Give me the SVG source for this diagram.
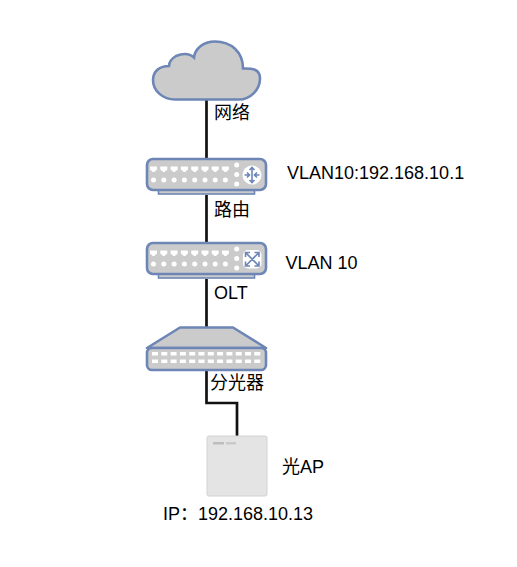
<svg xmlns="http://www.w3.org/2000/svg" xmlns:xlink="http://www.w3.org/1999/xlink" width="517" height="567" viewBox="0 0 517 567">
<style>
text{font-family:"Liberation Sans","Noto Sans CJK SC",sans-serif;font-size:18px;fill:#000}
.b{fill:#cbcbcb;stroke:#6d86b6;stroke-width:2.6;stroke-linejoin:round}
.f{fill:#cbcbcb;stroke:#6d86b6;stroke-width:1.6}
.w{fill:#fff}
.i{fill:none;stroke:#6d86b6;stroke-width:1.6}
.c{fill:none;stroke:#111;stroke-width:2.7}
</style>
<defs>
<path id="pt" d="M0 0h7v3l-1.200 1.200h-1v1.300h-2.600v-1.300h-1l-1.200-1.200z"/>
<g id="panel">
<rect class="f" x="158.500" y="30" width="96" height="6"/>
<rect class="b" x="147" y="1" width="119" height="31" rx="6"/>
<g class="w">
<use xlink:href="#pt" x="150" y="8.500"/><use xlink:href="#pt" x="160.300" y="8.500"/><use xlink:href="#pt" x="170.600" y="8.500"/><use xlink:href="#pt" x="180.900" y="8.500"/>
<use xlink:href="#pt" x="191.200" y="8.500"/><use xlink:href="#pt" x="201.500" y="8.500"/><use xlink:href="#pt" x="211.700" y="8.500"/><use xlink:href="#pt" x="221.900" y="8.500"/>
<circle cx="153.500" cy="22" r="2.500"/><circle cx="163.800" cy="22" r="2.500"/><circle cx="174.100" cy="22" r="2.500"/><circle cx="184.400" cy="22" r="2.500"/>
<circle cx="194.700" cy="22" r="2.500"/><circle cx="205" cy="22" r="2.500"/><circle cx="215.200" cy="22" r="2.500"/><circle cx="225.400" cy="22" r="2.500"/>
<circle cx="236.700" cy="7" r="2.500"/><circle cx="236.700" cy="16.500" r="2.500"/><circle cx="236.700" cy="26" r="2.500"/>
</g>
</g>
<rect id="sp" class="w" width="6" height="3.500"/>
</defs>
<g id="connectors">
<path class="c" d="M206.500 99V160M206.500 195V244M206.500 279V328"/>
<path class="c" d="M206.500 369V403H237V436"/>
</g>
<g id="cloud">
<path d="M175 99.500H239C250 99.500 260 90 260 78.500C260 68 251 68.500 243 68.500C243 52 231 41.500 215 41.500C203 41.500 195 49 194 57.500C189 53 182 53.500 176 56C171 59 169 62 169 66C160 66 153 71 153 80C153 91 163 99.500 175 99.500Z" fill="#cbcbcb" stroke="#6d86b6" stroke-width="2.600"/>
<text x="214" y="119">网络</text>
</g>
<g id="router">
<use xlink:href="#panel" y="158"/>
<circle class="w" cx="252" cy="175" r="9.500"/>
<path class="i" d="M252 167.500V182.500M244.500 175H249M255 175H259.500M249.500 170l2.500-2.500 2.500 2.500M249.500 180l2.500 2.500 2.500-2.500M247 172.500l2.500 2.500-2.500 2.500M257 172.500l-2.500 2.500 2.500 2.500"/>
<text x="214" y="216">路由</text>
<text x="287" y="178.500">VLAN10:192.168.10.1</text>
</g>
<g id="switch">
<use xlink:href="#panel" y="242"/>
<rect class="w" x="243" y="250" width="18.500" height="18.500" rx="5"/>
<path class="i" stroke-width="1.800" d="M245.500 252.500L259 266M259 252.500L245.500 266M245.500 257V252.500H250M254.500 252.500H259V257M245.500 261.500V266H250M254.500 266H259V261.500"/>
<text x="214" y="299">OLT</text>
<text x="285.500" y="269">VLAN 10</text>
</g>
<g id="splitter">
<path class="b" d="M180 327.500H233L266 348H147Z"/>
<rect class="b" x="147" y="348" width="119" height="22" rx="5"/>
<g id="ports">
<use xlink:href="#sp" x="152" y="352"/><use xlink:href="#sp" x="161.300" y="352"/><use xlink:href="#sp" x="170.600" y="352"/><use xlink:href="#sp" x="179.900" y="352"/><use xlink:href="#sp" x="189.200" y="352"/><use xlink:href="#sp" x="198.500" y="352"/><use xlink:href="#sp" x="207.800" y="352"/><use xlink:href="#sp" x="217.100" y="352"/><use xlink:href="#sp" x="226.400" y="352"/><use xlink:href="#sp" x="235.700" y="352"/><use xlink:href="#sp" x="245" y="352"/><use xlink:href="#sp" x="254.300" y="352"/>
<use xlink:href="#sp" x="152" y="359.500"/><use xlink:href="#sp" x="161.300" y="359.500"/><use xlink:href="#sp" x="170.600" y="359.500"/><use xlink:href="#sp" x="179.900" y="359.500"/><use xlink:href="#sp" x="189.200" y="359.500"/><use xlink:href="#sp" x="198.500" y="359.500"/><use xlink:href="#sp" x="207.800" y="359.500"/><use xlink:href="#sp" x="217.100" y="359.500"/><use xlink:href="#sp" x="226.400" y="359.500"/><use xlink:href="#sp" x="235.700" y="359.500"/><use xlink:href="#sp" x="245" y="359.500"/><use xlink:href="#sp" x="254.300" y="359.500"/>
</g>
<text x="210" y="389">分光器</text>
</g>
<g id="ap">
<rect x="207" y="436" width="60" height="60" rx="2" fill="#e4e4e4" stroke="#d2d2d2"/>
<rect x="213" y="442" width="11" height="2.500" fill="#bdbdbd"/>
<rect x="226" y="442" width="10" height="2.500" fill="#cacaca"/>
<text x="282" y="473">光AP</text>
<text x="163" y="520">IP：192.168.10.13</text>
</g>
</svg>
